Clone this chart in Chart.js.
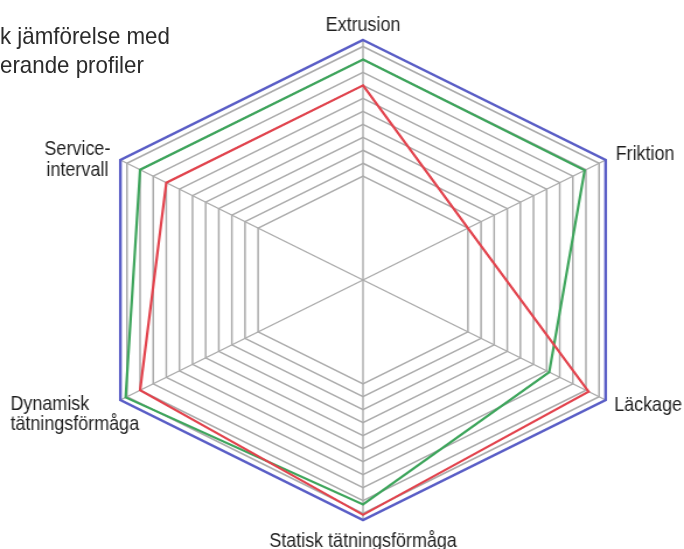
<!DOCTYPE html>
<html>
<head>
<meta charset="utf-8">
<script src="https://cdn.jsdelivr.net/npm/chart.js@4.4.1/dist/chart.umd.min.js"></script>
<style>
    html, body { margin: 0; padding: 0; background: #ffffff; }
    #wrap { position: relative; width: 684px; height: 549px; overflow: hidden; }
    #chart { position: absolute; left: 0; top: 0; }
    #title {
        position: absolute; left: 0; top: 21px;
        font-family: "Liberation Sans", Arial, sans-serif;
        font-size: 24px; line-height: 29px; color: #2b2b2b;
        white-space: nowrap;
        transform: scaleX(0.93); transform-origin: left top;
    }
</style>
</head>
<body>
<div id="wrap">
    <!-- drawn 586 wide, shown 684 wide: the reference hexagon is wider than a regular one -->
    <canvas id="chart" width="586" height="549" style="width:684px;height:549px"></canvas>
    <div id="title">k jämförelse med<br>erande profiler</div>
</div>
<script>
document.addEventListener('DOMContentLoaded', function () {

    // Axes, clockwise from the top
    const axisLabels = ['Extrusion', 'Friktion', 'Läckage', 'Statisk tätningsförmåga', ['Dynamisk', 'tätningsförmåga'], ['Service-', 'intervall']];

    // Series values (scale 0 - 18.5, rings from 8 to 18)
    const blueValues = [18.5, 18.5, 18.5, 18.5, 18.5, 18.5];
    const greenValues = [17.0, 16.9, 14.2, 17.3, 18.1, 17.0];
    const redValues = [15.0, 8.0, 17.2, 18.1, 17.0, 15.0];

    // Ring positions (first one is the centre, not drawn)
    const ringTicks = [0, 8, 9, 10, 11, 12, 13, 14, 15, 16, 17, 18];
    const scaleMax = 18.5;

    const STRETCH = 684 / 586;

    // where each axis label sits relative to its outer corner (screen px)
    const labelPlacement = [
        { align: 'center', dx: 0, dy: -9 },
        { align: 'left', dx: 10, dy: 0 },
        { align: 'left', dx: 8.5, dy: 11 },
        { align: 'center', dx: 0, dy: 27 },
        { align: 'left', dx: -110, dy: 9.5 },
        { align: 'center', dx: -43, dy: -5 }
    ];

    // Draws the axis labels without the horizontal stretch of the canvas
    const axisLabelPlugin = {
        id: 'axisLabelPlugin',
        afterDraw(chart) {
            const scale = chart.scales.r;
            const ctx = chart.ctx;
            ctx.save();
            ctx.fillStyle = '#1f1f1f';
            ctx.font = '21px "Liberation Sans", Arial, sans-serif';
            ctx.textBaseline = 'alphabetic';
            axisLabels.forEach((label, i) => {
                const p = scale.getPointPosition(i, scale.drawingArea);
                const place = labelPlacement[i];
                [].concat(label).forEach((line, j) => {
                    ctx.save();
                    ctx.translate(p.x + place.dx / STRETCH, p.y + place.dy + j * 20.5);
                    ctx.scale(0.855 / STRETCH, 1);
                    ctx.textAlign = place.align;
                    ctx.fillText(line, 0, 0);
                    ctx.restore();
                });
            });
            ctx.restore();
        }
    };

    const ctx = document.getElementById('chart').getContext('2d');
    new Chart(ctx, {
        type: 'radar',
        data: {
            labels: axisLabels,
            datasets: [{
                data: blueValues,
                borderColor: '#5a5ec6',
                borderWidth: 2.4,
                fill: false,
                pointRadius: 0
            }, {
                data: redValues,
                borderColor: '#e2434d',
                borderWidth: 2.2,
                fill: false,
                pointRadius: 0
            }, {
                data: greenValues,
                borderColor: '#3ea55c',
                borderWidth: 2.2,
                fill: false,
                pointRadius: 0
            }]
        },
        options: {
            responsive: false,
            animation: false,
            devicePixelRatio: 1,
            layout: {
                padding: { left: 71, right: 35, top: 40, bottom: 29 }
            },
            plugins: {
                legend: { display: false },
                tooltip: { enabled: false }
            },
            elements: {
                line: { tension: 0 }
            },
            scales: {
                r: {
                    min: 0,
                    max: scaleMax,
                    afterBuildTicks: function (scale) {
                        scale.ticks = ringTicks.map(v => ({ value: v }));
                    },
                    ticks: { display: false },
                    pointLabels: { display: false },
                    grid: {
                        color: '#ababab',
                        lineWidth: 1.5
                    },
                    angleLines: {
                        color: '#ababab',
                        lineWidth: 1.4
                    }
                }
            }
        },
        plugins: [axisLabelPlugin]
    });

});
</script>
</body>
</html>
